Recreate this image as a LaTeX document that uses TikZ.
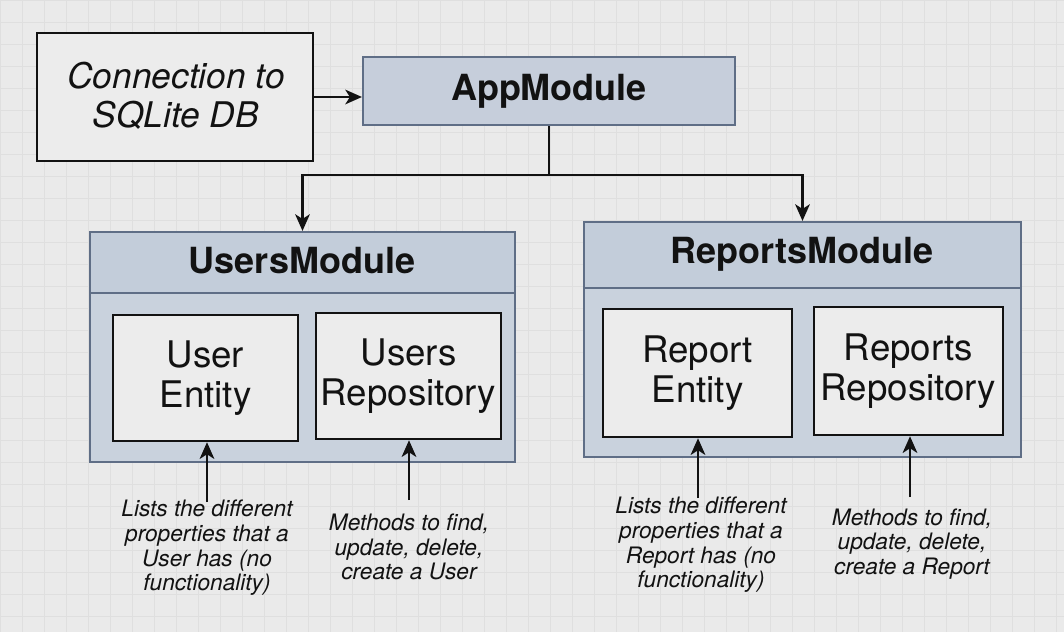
\documentclass[tikz,border=0pt]{standalone}
\usepackage{fontspec}
\setmainfont{TeX Gyre Heros}
\usetikzlibrary{arrows.meta,fit}
\definecolor{bg}{HTML}{EAEAEA}
\definecolor{gridc}{HTML}{DFDFDF}
\definecolor{modfill}{HTML}{C9D2DD}
\definecolor{modhead}{HTML}{C3CDDA}
\definecolor{appfill}{HTML}{C6CEDB}
\definecolor{modline}{HTML}{5F6E86}
\definecolor{ink}{HTML}{121212}
\definecolor{boxfill}{HTML}{ECECEC}
\begin{document}
\begin{tikzpicture}[x=0.75pt,y=-0.75pt,
  whitebox/.style={draw=ink, line width=1.9pt, fill=boxfill, inner sep=0pt},
  modbox/.style={draw=modline, line width=1.6pt, fill=modfill, inner sep=0pt},
  headbox/.style={draw=modline, line width=1.6pt, fill=modhead, inner sep=0pt},
  appbox/.style={draw=modline, line width=1.6pt, fill=appfill, inner sep=0pt},
  arr/.style={draw=ink, line width=1.7pt, -{Stealth[length=12.5pt,width=11pt,inset=3.5pt]}},
  plainline/.style={draw=ink, line width=1.7pt},
  titletext/.style={font=\fontsize{27}{30}\selectfont\bfseries, text=ink, inner sep=0pt},
  boxtext/.style={font=\fontsize{27.5}{30}\selectfont, align=center, text=ink, inner sep=0pt},
  conntext/.style={font=\fontsize{26.5}{29}\selectfont\itshape, align=center, text=ink, inner sep=0pt},
  captext/.style={font=\fontsize{17}{18.5}\selectfont\itshape, align=center, text=ink, inner sep=0pt}]
\useasboundingbox (0,0) rectangle (1064,632);
\fill[bg] (0,0) rectangle (1064,632);
\foreach \x in {0,22,...,1064} \draw[gridc, line width=0.35pt] (\x,0) -- (\x,632);
\foreach \y in {0,22,...,632} \draw[gridc, line width=0.35pt] (0,\y) -- (1064,\y);

% top row
\node[whitebox, fit={(37,33)(313,161)}] (conn) {};
\node[conntext] (conntxt) at (176,96) {Connection to\\SQLite DB};
\node[appbox, fit={(363,57)(735,125)}] (app) {};
\node[titletext] (apptxt) at (549,91) {AppModule};
\draw[arr] (conn.east) -- (conn.east -| app.west);

% users module
\node[modbox, fit={(90,232)(515,462)}] (users) {};
\node[headbox, fit={(90,232)(515,293)}] (usershead) {};
\node[titletext] (userstxt) at (302,261) {UsersModule};
\node[whitebox, fit={(113,315)(298,441)}] (ue) {};
\node[boxtext] (uetxt) at (ue.center) {User\\Entity};
\node[whitebox, fit={(316,313)(501,439)}] (ur) {};
\node[boxtext] (urtxt) at (ur.center) {Users\\Repository};

% reports module
\node[modbox, fit={(584,222)(1021,457)}] (reports) {};
\node[headbox, fit={(584,222)(1021,288)}] (reportshead) {};
\node[titletext] (reportstxt) at (802,254) {ReportsModule};
\node[whitebox, fit={(603,309)(792,437)}] (re) {};
\node[boxtext] (retxt) at (re.center) {Report\\Entity};
\node[whitebox, fit={(814,307)(1003,435)}] (rr) {};
\node[boxtext] (rrtxt) at (rr.center) {Reports\\Repository};

% tree connector
\coordinate (split) at (549,175);
\draw[plainline] (app.south) -- (split);
\draw[arr] (split) -| (users.north);
\draw[arr] (split) -| (reports.north);

% captions
\node[captext] (c1) at (207,548) {Lists the different\\properties that a\\User has (no\\functionality)};
\node[captext] (c2) at (409,547) {Methods to find,\\update, delete,\\create a User};
\node[captext] (c3) at (701,545) {Lists the different\\properties that a\\Report has (no\\functionality)};
\node[captext] (c4) at (912,544) {Methods to find,\\update, delete,\\create a Report};

\coordinate (t1) at (207,502);
\coordinate (t2) at (409,500);
\coordinate (t3) at (698,498);
\coordinate (t4) at (910,497);
\draw[arr] (t1) -- (t1 |- ue.south);
\draw[arr] (t2) -- (t2 |- ur.south);
\draw[arr] (t3) -- (t3 |- re.south);
\draw[arr] (t4) -- (t4 |- rr.south);
\end{tikzpicture}
\end{document}
